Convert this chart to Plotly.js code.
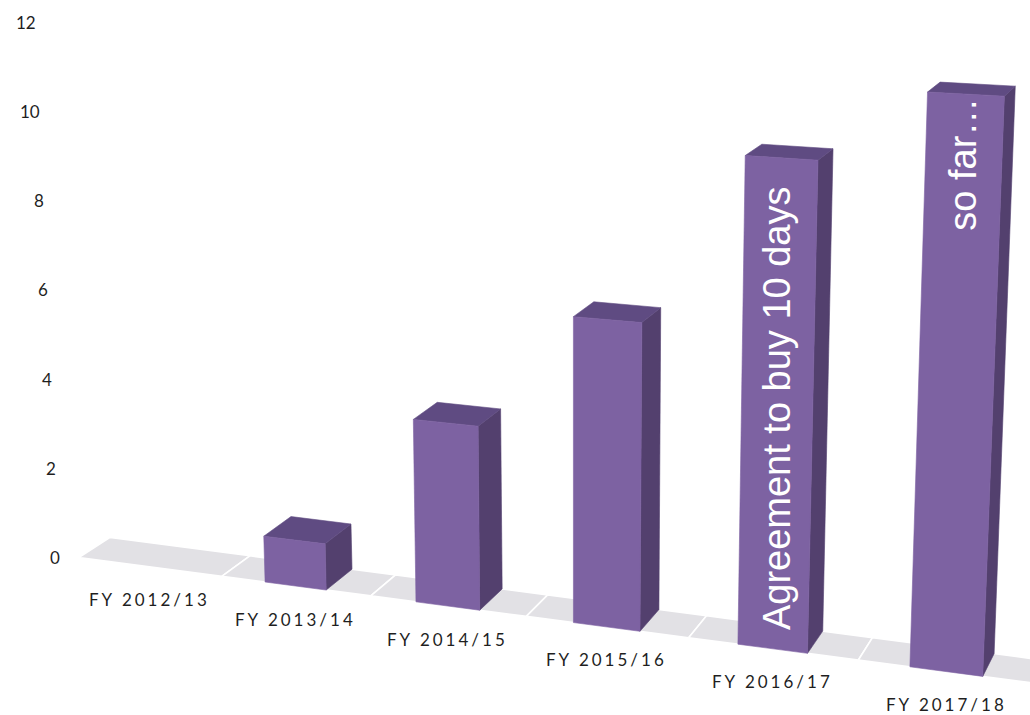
<!DOCTYPE html>
<html><head><meta charset="utf-8">
<script src="https://cdn.plot.ly/plotly-3.0.1.min.js"></script>
<style>
html,body{margin:0;padding:0;background:#fff;}
text[data-unformatted^="FY"]{letter-spacing:3px;}
</style></head>
<body><div id="chart" style="width:1030px;height:715px;"></div>
<script>
// ---- data ----
const categories = ["FY 2012/13", "FY 2013/14", "FY 2014/15", "FY 2015/16", "FY 2016/17", "FY 2017/18"];
const values = [0, 1, 3.9, 6.4, 10, 11.5];
const yTicks = [0, 2, 4, 6, 8, 10, 12];
const noteCategories = [4, 5];
const noteTexts = ["Agreement to buy 10 days", "so far…"];
const noteLevels = [4.9, 10.1];

// ---- pseudo-3D view (camera constants) ----
const VIEW = {x1: 295.5, a: 149, c: 0.021, y0: 582, xRef: 265, slope: 0.1315, k: 46,
  leanX: 574, leanD: 10960, vpX: 1500, vpY: -357, depth: 0.022, half: 0.205};
const COLORS = {front: "#7D62A2", top: "#5F4B82", side: "#53406E", floor: "#E2E1E5", text: "#1f1f1f"};

function proj(X, V, Z) {
  const u = X - 1;
  const w = 1 - VIEW.c * u;
  const bx = VIEW.x1 + VIEW.a * u / w;
  const by = VIEW.y0 + VIEW.slope * (bx - VIEW.xRef);
  const h = VIEW.k * V / w;
  let x = bx + (bx - VIEW.leanX) * h / VIEW.leanD;
  let y = by - h;
  if (Z) { x += (VIEW.vpX - x) * VIEW.depth * Z; y += (VIEW.vpY - y) * VIEW.depth * Z; }
  return [x, y];
}

function poly(pts, fill, lineColor, lineWidth) {
  const xs = pts.map(p => p[0]); xs.push(pts[0][0]);
  const ys = pts.map(p => p[1]); ys.push(pts[0][1]);
  return {type: "scatter", mode: "lines", x: xs, y: ys, fill: "toself", fillcolor: fill,
    line: {color: lineColor || fill, width: lineWidth === undefined ? 0.6 : lineWidth},
    hoverinfo: "skip", showlegend: false};
}

const traces = [];
// floor band, one tile per category with white dividers
categories.forEach((c, i) => {
  traces.push(poly([proj(i - 0.5, 0, 0), proj(i + 0.5, 0, 0), proj(i + 0.5, 0, 1), proj(i - 0.5, 0, 1)],
    COLORS.floor, "#ffffff", 1.6));
});
// bars
values.forEach((v, i) => {
  if (!(v > 0)) return;
  const L = i - VIEW.half, R = i + VIEW.half;
  traces.push(poly([proj(R, 0, 0), proj(R, 0, 1), proj(R, v, 1), proj(R, v, 0)], COLORS.side));
  traces.push(poly([proj(L, v, 0), proj(R, v, 0), proj(R, v, 1), proj(L, v, 1)], COLORS.top));
  traces.push(poly([proj(L, 0, 0), proj(R, 0, 0), proj(R, v, 0), proj(L, v, 0)], COLORS.front));
});

const annotations = [];
categories.forEach((c, i) => {
  const p = proj(i, 0, 0);
  annotations.push({x: p[0], y: p[1], xref: "x", yref: "y", text: c, showarrow: false,
    xanchor: "center", yanchor: "middle", yshift: -33,
    font: {family: "Lato, 'Open Sans', sans-serif", size: 17, color: COLORS.text}});
});
yTicks.forEach(t => {
  const p = proj(-0.5, t, 0);
  annotations.push({x: p[0], y: p[1], xref: "x", yref: "y", text: String(t), showarrow: false,
    xanchor: "right", yanchor: "middle", xshift: -17,
    font: {family: "Lato, 'Open Sans', sans-serif", size: 17, color: COLORS.text}});
});
noteCategories.forEach((ci, j) => {
  const p = proj(ci, noteLevels[j], 0);
  annotations.push({x: p[0], y: p[1], xref: "x", yref: "y", text: noteTexts[j], showarrow: false,
    textangle: -90, xanchor: "center", yanchor: "middle",
    font: {family: "'Liberation Sans', Arial, sans-serif", size: 38, color: "#ffffff"}});
});

const layout = {
  width: 1030, height: 715,
  margin: {l: 0, r: 0, t: 0, b: 0},
  paper_bgcolor: "#ffffff", plot_bgcolor: "#ffffff",
  showlegend: false, hovermode: false,
  xaxis: {range: [0, 1030], visible: false, fixedrange: true},
  yaxis: {range: [715, 0], visible: false, fixedrange: true},
  annotations: annotations
};
Plotly.newPlot("chart", traces, layout, {displayModeBar: false, staticPlot: true});
</script>
</body></html>
